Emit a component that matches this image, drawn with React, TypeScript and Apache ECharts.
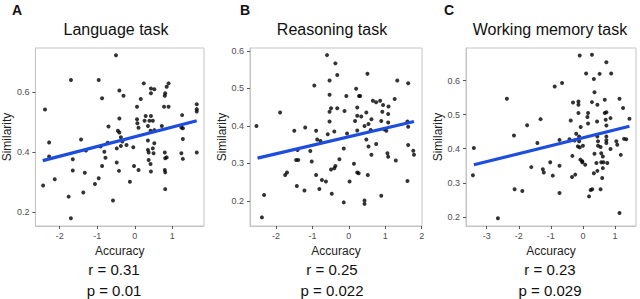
import React, { useEffect, useRef } from "react";
import * as echarts from "echarts";

const FONT = "'Liberation Sans', Arial, Helvetica, sans-serif";

const panelTitles = ["Language task", "Reasoning task", "Working memory task"];
const panelLetters = ["A", "B", "C"];
const rTexts = ["r = 0.31", "r = 0.25", "r = 0.23"];
const pTexts = ["p = 0.01", "p = 0.022", "p = 0.029"];
const xAxisName = "Accuracy";
const yAxisName = "Similarity";

// Panel A: Language task
const langX = [
  -0.5, -1.7, -0.96, -2.39, -0.87, -0.41, -0.3, 0.24, 0.16, 0.43, 0.52, 0.43, 0.9, 0.85, 0.81, 0.8,
  0.78, 0.9, 0.06, 0.06, 0.07, 0.1, 0.29, 0.26, 0.39, 0.43, 0.48, 0.35, 0.42, 0.52, 0.72, -0.41,
  -0.7, -0.45, -0.41, -0.37, -0.33, -0.48, -0.37, -0.22, -0.72, -0.91, -0.81, -0.78, -0.87, -0.96,
  -1.06, -1.43, -1.3, -1.65, -1.65, -1.33, -1.37, -1.76, -1.7, -2.13, -2.44, -2.28, -2.28, -0.48,
  -0.42, -0.58, -0.13, -0.02, -0.04, 0.1, 0.35, 0.35, 0.37, 0.37, 0.42, 0.43, 0.48, 0.52, 0.5, 0.8,
  0.81, 0.85, 0.8, 0.81, 0.81, 1.26, 1.24, 1.28, 1.28, 1.24, 1.28, 1.65, 1.65, 1.65, 1.65,
];
const langY = [
  0.724, 0.641, 0.641, 0.543, 0.58, 0.606, 0.589, 0.63, 0.578, 0.613, 0.61, 0.597, 0.63, 0.619,
  0.597, 0.589, 0.552, 0.552, 0.552, 0.51, 0.497, 0.482, 0.521, 0.505, 0.505, 0.521, 0.505, 0.488,
  0.472, 0.474, 0.488, 0.513, 0.486, 0.472, 0.466, 0.45, 0.436, 0.413, 0.421, 0.424, 0.432, 0.419,
  0.402, 0.382, 0.354, 0.313, 0.294, 0.443, 0.406, 0.377, 0.339, 0.332, 0.266, 0.252, 0.18, 0.31,
  0.289, 0.433, 0.386, 0.366, 0.338, 0.239, 0.302, 0.354, 0.417, 0.341, 0.439, 0.408, 0.399, 0.374,
  0.361, 0.336, 0.413, 0.43, 0.397, 0.399, 0.38, 0.383, 0.341, 0.333, 0.277, 0.524, 0.483, 0.48,
  0.444, 0.397, 0.378, 0.56, 0.544, 0.536, 0.399,
];
const langFitX = [-2.45, 1.65];
const langFitY = [0.372, 0.505];

// Panel B: Reasoning task
const reasonX = [
  -0.6, -0.37, -0.32, -0.53, -0.95, 0.51, 1.33, 1.63, -0.53, -0.07, -0.32, -0.49, -0.53, -0.12, 0.2,
  0.28, 0.31, 0.23, 0.48, 0.23, 0.17, 0.34, 0.66, 0.75, 0.86, 0.94, 1.09, 1.26, 0.92, 1.08, 0.89,
  1.08, 0.62, 0.54, 0.43, -1.89, -2.54, -1.5, -1.2, -0.9, -0.53, -0.58, -0.4, -0.05, 0.23, 0.48,
  0.54, 0.75, 0.62, 0.97, 1.03, 1.06, 1.08, 1.29, 1.61, 1.63, 1.63, 1.77, 1.79, 1.61, 0.89, 0.43,
  0.43, 0.02, -0.14, 0.23, 0.27, 0.14, -0.14, -0.26, -0.37, -0.4, -0.49, -0.47, -0.63, -0.74, -0.81,
  -0.9, -1.02, -1.06, -0.87, -0.78, -1.41, -1.45, -1.39, -1.43, -1.22, -1.7, -1.75, -2.33, -2.39,
  0.52, 0.6,
];
const reasonY = [
  0.589, 0.567, 0.536, 0.521, 0.508, 0.539, 0.521, 0.514, 0.483, 0.48, 0.447, 0.447, 0.438, 0.44,
  0.499, 0.48, 0.48, 0.449, 0.436, 0.427, 0.413, 0.425, 0.467, 0.463, 0.467, 0.456, 0.452, 0.472,
  0.438, 0.432, 0.413, 0.409, 0.418, 0.405, 0.4, 0.436, 0.4, 0.387, 0.396, 0.387, 0.412, 0.378,
  0.385, 0.38, 0.388, 0.364, 0.345, 0.352, 0.323, 0.391, 0.387, 0.327, 0.318, 0.308, 0.412, 0.398,
  0.349, 0.334, 0.323, 0.253, 0.214, 0.201, 0.192, 0.252, 0.196, 0.276, 0.274, 0.299, 0.34, 0.311,
  0.293, 0.287, 0.284, 0.219, 0.252, 0.256, 0.232, 0.269, 0.305, 0.333, 0.364, 0.36, 0.336, 0.309,
  0.309, 0.24, 0.228, 0.276, 0.269, 0.216, 0.156, 0.269, 0.389,
];
const reasonFitX = [-2.51, 1.79];
const reasonFitY = [0.314, 0.412];

// Panel C: Working memory task
const wmX = [
  -0.1, 0.28, 0.73, 0.1, 0.52, 0.88, 0.34, -0.65, -0.88, 0.36, -2.37, -0.31, -0.14, -0.14, 0.28,
  0.45, 0.68, 1.14, 1.25, -0.14, 0.16, 0.14, 0.68, 0.73, 0.86, 0.71, 1.45, -1.32, -0.38, 0.44, -0.07,
  0.73, 0.16, -1.74, -2.15, -0.21, -0.12, -0.42, -0.73, -1.42, -0.26, -0.12, -0.16, 0.0, 0.45, 0.47,
  0.73, 0.73, 0.73, 0.47, 0.55, 1.28, 1.35, 1.04, 1.07, 0.86, 0.57, 0.62, 0.36, -0.1, -0.33, -0.08,
  -0.02, 0.07, 0.42, 0.57, 0.64, 0.76, 1.18, 0.62, 0.45, 0.34, 0.6, -0.34, -0.24, -0.73, -1.02,
  -1.25, -1.22, -1.61, -0.94, -3.4, -3.43, -2.13, -1.89, -0.73, 0.24, 0.29, 0.19, 0.55, -2.65, 1.14,
  -0.02,
];
const wmY = [
  0.674, 0.676, 0.654, 0.621, 0.62, 0.621, 0.605, 0.593, 0.583, 0.566, 0.547, 0.536, 0.539, 0.529,
  0.537, 0.529, 0.544, 0.547, 0.52, 0.505, 0.505, 0.493, 0.505, 0.507, 0.49, 0.485, 0.488, 0.487,
  0.483, 0.48, 0.464, 0.468, 0.474, 0.469, 0.439, 0.444, 0.436, 0.428, 0.426, 0.417, 0.424, 0.422,
  0.407, 0.409, 0.436, 0.422, 0.436, 0.425, 0.417, 0.409, 0.405, 0.429, 0.428, 0.422, 0.412, 0.399,
  0.387, 0.377, 0.385, 0.404, 0.379, 0.368, 0.363, 0.353, 0.358, 0.36, 0.36, 0.358, 0.382, 0.343,
  0.335, 0.328, 0.314, 0.317, 0.324, 0.35, 0.36, 0.34, 0.33, 0.346, 0.321, 0.402, 0.322, 0.281,
  0.276, 0.27, 0.279, 0.281, 0.26, 0.281, 0.196, 0.211, 0.36,
];
const wmFitX = [-3.4, 1.45];
const wmFitY = [0.353, 0.466];

const langXTicks = [-2, -1, 0, 1];
const langYTicks = [0.2, 0.4, 0.6];
const reasonXTicks = [-2, -1, 0, 1, 2];
const reasonYTicks = [0.2, 0.3, 0.4, 0.5, 0.6];
const wmXTicks = [-3, -2, -1, 0, 1];
const wmYTicks = [0.2, 0.3, 0.4, 0.5, 0.6];

const xRanges = [
  [-2.645, 1.843],
  [-2.717, 2.01],
  [-3.645, 1.654],
];
const yRanges = [
  [0.154, 0.748],
  [0.133, 0.608],
  [0.173, 0.696],
];

const zip = (xs: number[], ys: number[]) => xs.map((x, i) => [x, ys[i]]);

export default function App() {
  const ref = useRef<HTMLDivElement>(null);

  useEffect(() => {
    if (!ref.current) return;
    const chart = echarts.init(ref.current, undefined, { renderer: "svg" });

    const grids = [
      { left: 32, top: 48, width: 172, height: 178 },
      { left: 250, top: 48, width: 172, height: 178 },
      { left: 466, top: 48, width: 170, height: 178 },
    ];
    const xTicks = [langXTicks, reasonXTicks, wmXTicks];
    const yTicks = [langYTicks, reasonYTicks, wmYTicks];
    const pts = [zip(langX, langY), zip(reasonX, reasonY), zip(wmX, wmY)];
    const fits = [zip(langFitX, langFitY), zip(reasonFitX, reasonFitY), zip(wmFitX, wmFitY)];

    const tickStyle = { show: true, length: 3, lineStyle: { color: "#555", width: 1 } };
    const lineStyle = { show: true, onZero: false, lineStyle: { color: "#c4c4c4", width: 1 } };

    const option: any = {
      animation: false,
      backgroundColor: "#fff",
      grid: grids.map((g) => ({
        ...g,
        show: true,
        borderColor: "#c4c4c4",
        borderWidth: 1,
        backgroundColor: "transparent",
      })),
      xAxis: grids.map((_, i) => ({
        type: "value",
        gridIndex: i,
        position: "bottom",
        min: xRanges[i][0],
        max: xRanges[i][1],
        name: xAxisName,
        nameLocation: "middle",
        nameGap: 14,
        nameTextStyle: { fontFamily: FONT, fontSize: 12, color: "#222" },
        axisLine: lineStyle,
        splitLine: { show: false },
        axisTick: { ...tickStyle, customValues: xTicks[i] },
        axisLabel: {
          customValues: xTicks[i],
          fontFamily: FONT,
          fontSize: 9,
          color: "#4d4d4d",
          margin: 5,
        },
      })),
      yAxis: grids.map((_, i) => ({
        type: "value",
        gridIndex: i,
        position: "left",
        min: yRanges[i][0],
        max: yRanges[i][1],
        name: yAxisName,
        nameLocation: "middle",
        nameGap: 18,
        nameTextStyle: { fontFamily: FONT, fontSize: 12, color: "#222" },
        axisLine: lineStyle,
        splitLine: { show: false },
        axisTick: { ...tickStyle, customValues: yTicks[i] },
        axisLabel: {
          customValues: yTicks[i],
          fontFamily: FONT,
          fontSize: 9,
          color: "#4d4d4d",
          margin: 6,
          formatter: (v: number) => String(Math.round(v * 10) / 10),
        },
      })),
      series: [
        ...pts.map((d, i) => ({
          type: "scatter",
          xAxisIndex: i,
          yAxisIndex: i,
          data: d,
          symbol: "circle",
          symbolSize: 4,
          itemStyle: { color: "#000" },
          silent: true,
        })),
        ...fits.map((d, i) => ({
          type: "line",
          xAxisIndex: i,
          yAxisIndex: i,
          data: d,
          symbol: "none",
          lineStyle: { color: "#1d4ddf", width: 3.2 },
          silent: true,
          z: 3,
        })),
      ],
      graphic: [
        ...panelLetters.map((t, i) => ({
          type: "text",
          x: [12, 240, 444][i],
          y: 10,
          style: {
            text: t,
            font: `bold 14px ${FONT}`,
            fill: "#111",
            verticalAlign: "middle",
          },
        })),
        ...panelTitles.map((t, i) => ({
          type: "text",
          x: [116, 332, 550][i],
          y: 29,
          style: {
            text: t,
            font: `16px ${FONT}`,
            fill: "#111",
            align: "center",
            verticalAlign: "middle",
          },
        })),
        ...rTexts.map((t, i) => ({
          type: "text",
          x: [114, 332, 550][i],
          y: 269,
          style: {
            text: t,
            font: `15px ${FONT}`,
            fill: "#111",
            align: "center",
            verticalAlign: "middle",
          },
        })),
        ...pTexts.map((t, i) => ({
          type: "text",
          x: [114, 332, 550][i],
          y: 290,
          style: {
            text: t,
            font: `15px ${FONT}`,
            fill: "#111",
            align: "center",
            verticalAlign: "middle",
          },
        })),
      ],
    };

    chart.setOption(option);
    return () => chart.dispose();
  }, []);

  return (
    <div
      ref={ref}
      style={{ position: "fixed", left: 0, top: 0, width: 640, height: 299, background: "#fff" }}
    />
  );
}
